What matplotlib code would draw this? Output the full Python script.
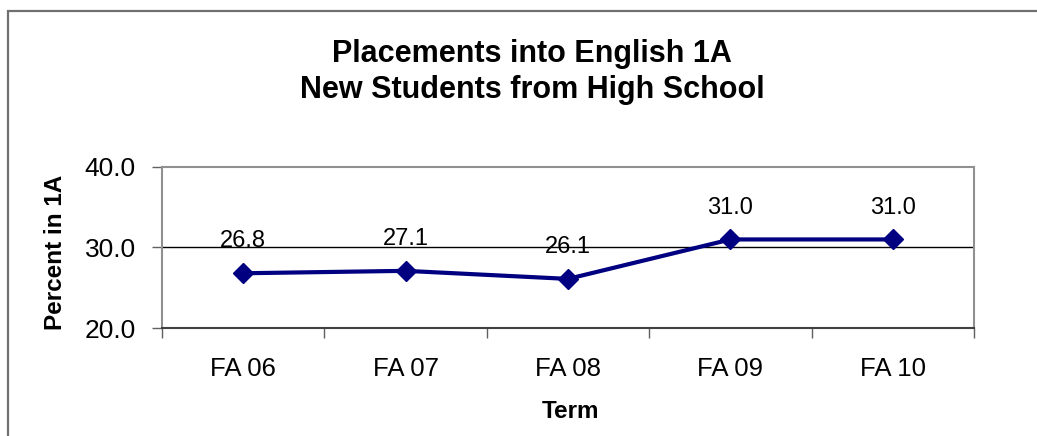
import matplotlib
matplotlib.use('Agg')
import matplotlib.pyplot as plt
from matplotlib.patches import Rectangle

plt.rcParams['font.family'] = ['Liberation Sans', 'DejaVu Sans']

terms = ['FA 06', 'FA 07', 'FA 08', 'FA 09', 'FA 10']
pct_1a = [26.8, 27.1, 26.1, 31.0, 31.0]
y_ticks = [20.0, 30.0, 40.0]

W, H = 1037, 436
fig = plt.figure(figsize=(W / 100, H / 100), dpi=100)

# outer chart frame (cropped on right and bottom)
fig.patches.append(Rectangle((8 / W, -0.1), 1.2, 1 - 11 / H + 0.1, transform=fig.transFigure,
                             fill=False, edgecolor='#707070', linewidth=1.6))

ax = fig.add_axes([162 / W, 1 - 328 / H, (974 - 162) / W, (328 - 167) / H])

x = list(range(len(terms)))
ax.plot(x, pct_1a, color='#000080', linewidth=3, marker='D', markersize=10.5, zorder=3)

for xi, v in zip(x, pct_1a):
    ax.annotate('%.1f' % v, (xi, v), xytext=(0, 23), textcoords='offset points',
                ha='center', va='center', fontsize=17, color='black')

ax.set_xlim(-0.5, len(terms) - 0.5)
ax.set_ylim(20, 40)

ax.set_yticks(y_ticks)
ax.set_yticklabels(['%.1f' % t for t in y_ticks], fontsize=19)
ax.set_xticks(x)
ax.set_xticklabels(terms, fontsize=18.5)
ax.set_xticks([i - 0.5 for i in range(len(terms) + 1)], minor=True)

ax.tick_params(axis='x', which='major', length=0, pad=21)
ax.tick_params(axis='x', which='minor', length=7, width=1, color='#606060', direction='out')
ax.tick_params(axis='y', length=7, width=1, color='#606060', pad=12)

ax.axhline(30, color='black', linewidth=1, zorder=1)

for side in ['left', 'top', 'right']:
    ax.spines[side].set_color('#909090')
    ax.spines[side].set_linewidth(1.5)
ax.spines['bottom'].set_color('#404040')
ax.spines['bottom'].set_linewidth(1.5)

fig.text(56 / W, 1 - 252 / H, 'Percent in 1A', rotation=90, ha='center', va='center',
         fontsize=17.5, fontweight='bold')
fig.text(571 / W, 1 - 411 / H, 'Term', ha='center', va='center',
         fontsize=17.5, fontweight='bold')

fig.text(532 / W, 1 - 72 / H, 'Placements into English 1A\nNew Students from High School',
         ha='center', va='center', fontsize=22, fontweight='bold', linespacing=1.25)

fig.savefig('out.png', dpi=100)
plt.close()
